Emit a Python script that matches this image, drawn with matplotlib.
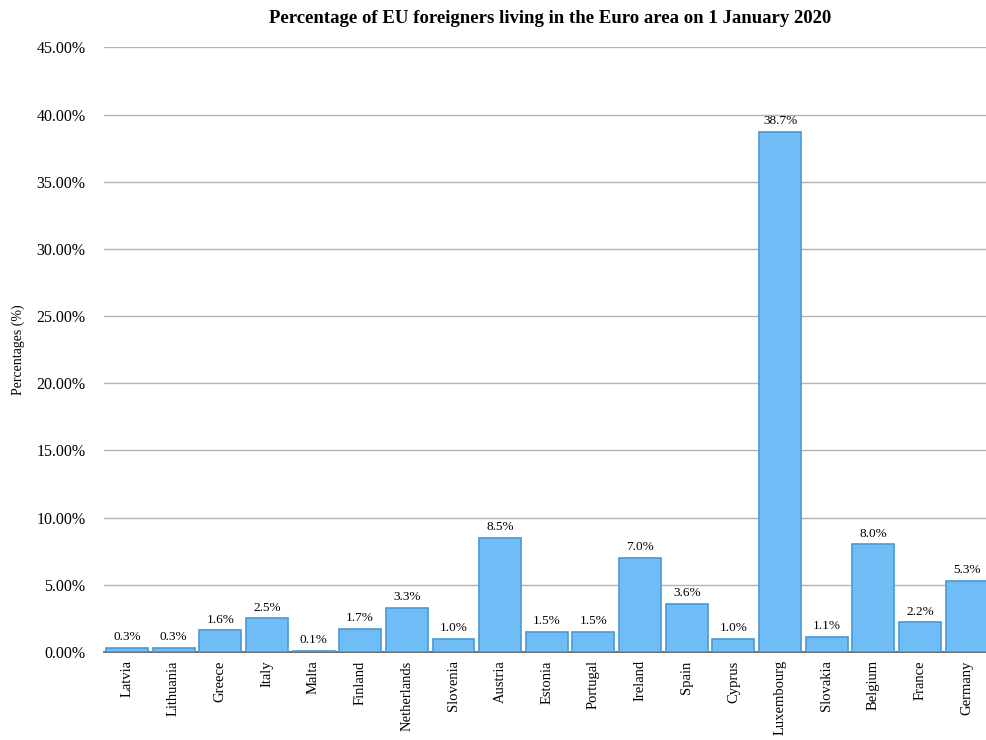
import matplotlib.pyplot as plt
from matplotlib.ticker import FuncFormatter

countries = ['Latvia', 'Lithuania', 'Greece', 'Italy', 'Malta', 'Finland', 'Netherlands',
             'Slovenia', 'Austria', 'Estonia', 'Portugal', 'Ireland', 'Spain', 'Cyprus',
             'Luxembourg', 'Slovakia', 'Belgium', 'France', 'Germany']
values = [0.3, 0.3, 1.6, 2.5, 0.1, 1.7, 3.3, 1.0, 8.5, 1.5, 1.5, 7.0, 3.6, 1.0,
          38.7, 1.1, 8.0, 2.2, 5.3]
yticks = [0, 5, 10, 15, 20, 25, 30, 35, 40, 45]

plt.rcParams['font.family'] = ['Liberation Serif', 'DejaVu Serif']

fig = plt.figure(figsize=(9.87, 7.4), dpi=100)
ax = fig.add_axes([0.105, 0.119, 0.898, 0.817])

x = list(range(len(countries)))
ax.bar(x, values, width=0.9, color='#70bcf6', edgecolor='#4a98d6', linewidth=1.2, zorder=3)
for xi, v in zip(x, values):
    ax.text(xi, v + 0.35, f'{v:.1f}%', ha='center', va='bottom', fontsize=9.5, zorder=4)

ax.set_xlim(-0.5, len(countries) - 0.5)
ax.set_ylim(0, 45)
ax.set_yticks(yticks)
ax.yaxis.set_major_formatter(FuncFormatter(lambda v, p: f'{v:.2f}%'))
ax.set_xticks(x)
ax.set_xticklabels(countries, rotation=90, fontsize=10.5)
ax.tick_params(axis='both', length=0)
ax.tick_params(axis='y', labelsize=11.5, pad=13)
ax.tick_params(axis='x', pad=6)

ax.grid(axis='y', color='#b4b4b4', linewidth=1, zorder=0)
for s in ['top', 'right', 'left']:
    ax.spines[s].set_visible(False)
ax.spines['bottom'].set_color('#555555')
ax.spines['bottom'].set_linewidth(1.2)

ax.set_ylabel('Percentages (%)', fontsize=10, labelpad=8)
fig.text(0.557, 0.975, 'Percentage of EU foreigners living in the Euro area on 1 January 2020',
         ha='center', va='center', fontsize=13.5, fontweight='bold')

fig.savefig('out.png', dpi=100)
